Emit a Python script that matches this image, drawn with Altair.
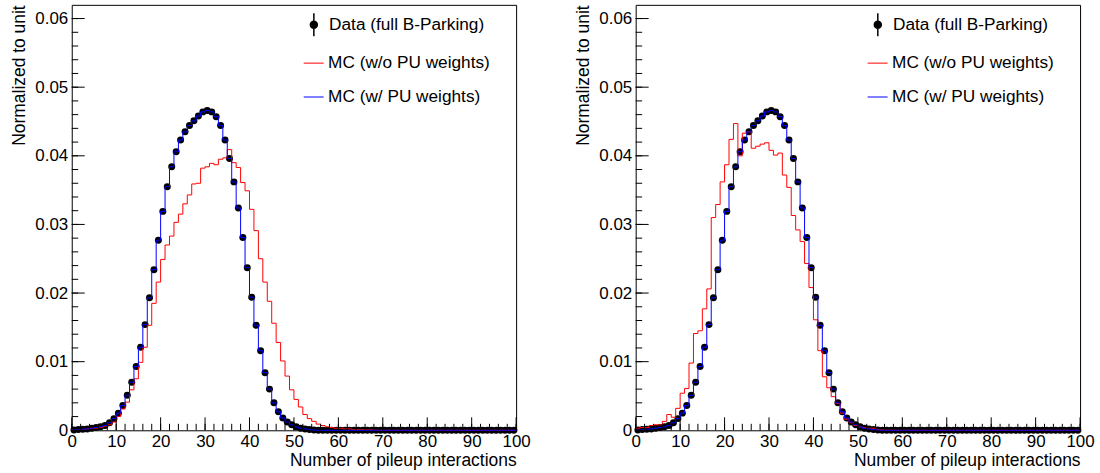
import altair as alt
import pandas as pd

# ---------------- data (bins of width 1 from 0 to 100) ----------------
bin_low = list(range(100))

data_vals = [
    0.00005, 0.0001, 0.00015, 0.0002, 0.0003, 0.0004, 0.0005, 0.0007, 0.0011, 0.0017,
    0.0025, 0.0036, 0.0051, 0.0070, 0.0093, 0.0121, 0.0154, 0.0193, 0.0234, 0.0277,
    0.0319, 0.0355, 0.0384, 0.0406, 0.0423, 0.0435, 0.0444, 0.0451, 0.0458, 0.0464,
    0.0466, 0.0464, 0.0457, 0.0444, 0.0423, 0.0396, 0.0362, 0.0324, 0.0281, 0.0237,
    0.0194, 0.0153, 0.0116, 0.0084, 0.0060, 0.0040, 0.0027, 0.0018, 0.0012, 0.0008,
    0.0005, 0.0003, 0.0002, 0.0001, 0.00005, 0, 0, 0, 0, 0,
    0, 0, 0, 0, 0, 0, 0, 0, 0, 0,
    0, 0, 0, 0, 0, 0, 0, 0, 0, 0,
    0, 0, 0, 0, 0, 0, 0, 0, 0, 0,
    0, 0, 0, 0, 0, 0, 0, 0, 0, 0,
]

mc_pu_vals = [
    0.00005, 0.0001, 0.00015, 0.0002, 0.0003, 0.0004, 0.0005, 0.0007, 0.0011, 0.0017,
    0.0025, 0.0036, 0.0051, 0.0070, 0.0093, 0.0121, 0.0154, 0.0193, 0.0234, 0.0277,
    0.0319, 0.0355, 0.0384, 0.0406, 0.0423, 0.0435, 0.0444, 0.0451, 0.0458, 0.0464,
    0.0466, 0.0464, 0.0457, 0.0444, 0.0423, 0.0396, 0.0362, 0.0324, 0.0281, 0.0237,
    0.0194, 0.0153, 0.0116, 0.0084, 0.0060, 0.0040, 0.0027, 0.0018, 0.0012, 0.0008,
    0.0005, 0.0003, 0.0002, 0.0001, 0.00005, 0, 0, 0, 0, 0,
    0, 0, 0, 0, 0, 0, 0, 0, 0, 0,
    0, 0, 0, 0, 0, 0, 0, 0, 0, 0,
    0, 0, 0, 0, 0, 0, 0, 0, 0, 0,
    0, 0, 0, 0, 0, 0, 0, 0, 0, 0,
]

mc_nopu_left = [
    0.00005, 0.0001, 0.0001, 0.0002, 0.0003, 0.0003, 0.0004, 0.0006, 0.0008, 0.0012,
    0.0020, 0.0031, 0.0041, 0.0059, 0.0075, 0.0099, 0.0121, 0.0153, 0.0185, 0.0216,
    0.0249, 0.0270, 0.0283, 0.0303, 0.0315, 0.0330, 0.0343, 0.0359, 0.0360, 0.0382,
    0.0384, 0.0389, 0.0387, 0.0395, 0.0397, 0.0409, 0.0390, 0.0383, 0.0361, 0.0349,
    0.0322, 0.0291, 0.0250, 0.0216, 0.0188, 0.0156, 0.0128, 0.0101, 0.0079, 0.0059,
    0.0045, 0.0034, 0.0023, 0.0017, 0.0013, 0.0009, 0.0007, 0.0005, 0.0004, 0.0003,
    0.0003, 0.0002, 0.0002, 0.0001, 0.0001, 0.0001, 0.00005, 0.00005, 0, 0,
    0, 0, 0, 0, 0, 0, 0, 0, 0, 0,
    0, 0, 0, 0, 0, 0, 0, 0, 0, 0,
    0, 0, 0, 0, 0, 0, 0, 0, 0, 0,
]

mc_nopu_right = [
    0.0003, 0.0004, 0.0004, 0.0007, 0.0008, 0.0008, 0.0013, 0.0023, 0.0019, 0.0032,
    0.0054, 0.0061, 0.0098, 0.0141, 0.0145, 0.0177, 0.0206, 0.0310, 0.0329, 0.0362,
    0.0387, 0.0424, 0.0447, 0.0400, 0.0433, 0.0435, 0.0411, 0.0414, 0.0417, 0.0419,
    0.0408, 0.0401, 0.0404, 0.0372, 0.0354, 0.0313, 0.0292, 0.0275, 0.0243, 0.0208,
    0.0161, 0.0116, 0.0078, 0.0062, 0.0049, 0.0039, 0.0025, 0.0016, 0.0011, 0.0007,
    0.0005, 0.0004, 0.0003, 0.0003, 0.0001, 0.00005, 0, 0, 0, 0,
    0, 0, 0, 0, 0, 0, 0, 0, 0, 0,
    0, 0, 0, 0, 0, 0, 0, 0, 0, 0,
    0, 0, 0, 0, 0, 0, 0, 0, 0, 0,
    0, 0, 0, 0, 0, 0, 0, 0, 0, 0,
]

x_major = [0, 10, 20, 30, 40, 50, 60, 70, 80, 90, 100]
x_minor = [0, 2, 4, 6, 8, 10, 12, 14, 16, 18, 20, 22, 24, 26, 28, 30, 32, 34, 36, 38,
           40, 42, 44, 46, 48, 50, 52, 54, 56, 58, 60, 62, 64, 66, 68, 70, 72, 74, 76,
           78, 80, 82, 84, 86, 88, 90, 92, 94, 96, 98, 100]
y_major = [0, 0.01, 0.02, 0.03, 0.04, 0.05, 0.06]
y_minor = [0, 0.002, 0.004, 0.006, 0.008, 0.01, 0.012, 0.014, 0.016, 0.018, 0.02,
           0.022, 0.024, 0.026, 0.028, 0.03, 0.032, 0.034, 0.036, 0.038, 0.04, 0.042,
           0.044, 0.046, 0.048, 0.05, 0.052, 0.054, 0.056, 0.058, 0.06]

DATA_NAME = "Data (full B-Parking)"
MC_NAMES = ["MC (w/o PU weights)", "MC (w/ PU weights)"]
X_TITLE = "Number of pileup interactions"
Y_TITLE = "Normalized to unit"

# ---------------- style ----------------
FONT = "Liberation Sans"
FS_LAB = 17
FS_TIT = 17.5
FS_LEG = 17.3
W, H = 446, 427
MAJ, MIN = 13, 6.5
DATA_SYMBOL = ("M -0.35,0 A 0.35,0.35 0 1,1 0.35,0 A 0.35,0.35 0 1,1 -0.35,0 Z "
               "M 0,-1.15 L 0,1.15")

xscale = alt.Scale(domain=[0, 100], nice=False, zero=False)
yscale = alt.Scale(domain=[0, 0.062], nice=False, zero=False)

xaxis = alt.Axis(values=x_major, ticks=False, domain=False, grid=False,
                 labelFont=FONT, labelFontSize=FS_LAB, labelColor="black",
                 labelPadding=3, labelFlush=False, labelOverlap=False,
                 titleFont=FONT, titleFontSize=FS_TIT, titleFontWeight="normal",
                 titleColor="black", titleX=W, titleY=35, titleAlign="right",
                 titleBaseline="alphabetic")
yaxis = alt.Axis(values=y_major, ticks=False, domain=False, grid=False,
                 labelExpr="datum.value == 0 ? '0' : format(datum.value, '.2f')",
                 labelFont=FONT, labelFontSize=FS_LAB, labelColor="black",
                 labelPadding=4, labelFlush=False, labelOverlap=False,
                 titleFont=FONT, titleFontSize=FS_TIT, titleFontWeight="normal",
                 titleColor="black", titleX=-47, titleY=0, titleAlign="right",
                 titleBaseline="alphabetic", titleAngle=270)


def X(field):
    return alt.X(f"{field}:Q", scale=xscale, axis=xaxis, title=X_TITLE)


def Y(field):
    return alt.Y(f"{field}:Q", scale=yscale, axis=yaxis, title=Y_TITLE)


def panel(mc_nopu):
    dots = pd.DataFrame({"center": [b + 0.5 for b in bin_low],
                         "value": data_vals, "series": DATA_NAME})
    edges = bin_low + [100]
    rows = []
    for name, vals in zip(MC_NAMES, [mc_nopu, mc_pu_vals]):
        ext = vals + [vals[-1]]
        for e, v in zip(edges, ext):
            rows.append({"edge": e, "value": v, "series": name})
    lines = pd.DataFrame(rows)

    dots_layer = alt.Chart(dots).mark_circle(
        size=49, color="black", opacity=1
    ).encode(x=X("center"), y=Y("value"))

    # legend-only layer: draws no marks, only provides the data legend entry
    data_legend = alt.Chart(dots).transform_filter("false").mark_point(
        fill="black", stroke="black", strokeWidth=1.2, size=400, opacity=1
    ).encode(
        x=X("center"), y=Y("value"),
        shape=alt.Shape("series:N",
                        scale=alt.Scale(domain=[DATA_NAME], range=[DATA_SYMBOL]),
                        legend=alt.Legend(
                            title=None, orient="none", legendX=232, legendY=9,
                            labelFont=FONT, labelFontSize=FS_LEG, labelColor="black",
                            labelOffset=4.3, labelLimit=400, symbolSize=400,
                            padding=0)),
    )

    lines_layer = alt.Chart(lines).mark_line(
        interpolate="step-after", strokeWidth=1
    ).encode(
        x=X("edge"), y=Y("value"),
        color=alt.Color("series:N",
                        scale=alt.Scale(domain=MC_NAMES, range=["#ff0000", "#0000ff"]),
                        legend=alt.Legend(
                            title=None, orient="none", legendX=232.3, legendY=48,
                            symbolType="stroke", symbolSize=400,
                            symbolStrokeWidth=1, labelOffset=4, rowPadding=15,
                            labelFont=FONT, labelFontSize=FS_LEG, labelColor="black",
                            labelLimit=400, padding=0)),
    )

    xt_major = alt.Chart(pd.DataFrame({"t": x_major})).mark_rule(
        color="black", strokeWidth=1).encode(
        x=X("t"), y=alt.value(H), y2=alt.value(H - MAJ))
    xt_minor = alt.Chart(pd.DataFrame({"t": x_minor})).mark_rule(
        color="black", strokeWidth=1).encode(
        x=X("t"), y=alt.value(H), y2=alt.value(H - MIN))
    yt_major = alt.Chart(pd.DataFrame({"t": y_major})).mark_rule(
        color="black", strokeWidth=1).encode(
        y=Y("t"), x=alt.value(0), x2=alt.value(MAJ))
    yt_minor = alt.Chart(pd.DataFrame({"t": y_minor})).mark_rule(
        color="black", strokeWidth=1).encode(
        y=Y("t"), x=alt.value(0), x2=alt.value(MIN))

    return alt.layer(dots_layer, data_legend, lines_layer, xt_major, xt_minor,
                     yt_major, yt_minor).properties(width=W, height=H)


chart = alt.hconcat(panel(mc_nopu_left), panel(mc_nopu_right),
                    spacing=120, bounds="flush").resolve_scale(
    color="independent", shape="independent"
).resolve_legend(
    color="independent", shape="independent"
).configure_view(
    stroke="black", strokeWidth=1
).properties(
    padding={"left": 10, "top": 3, "right": 5, "bottom": 0},
    background="white",
)

chart.save("out.html", embed_options={"renderer": "svg", "actions": False})
